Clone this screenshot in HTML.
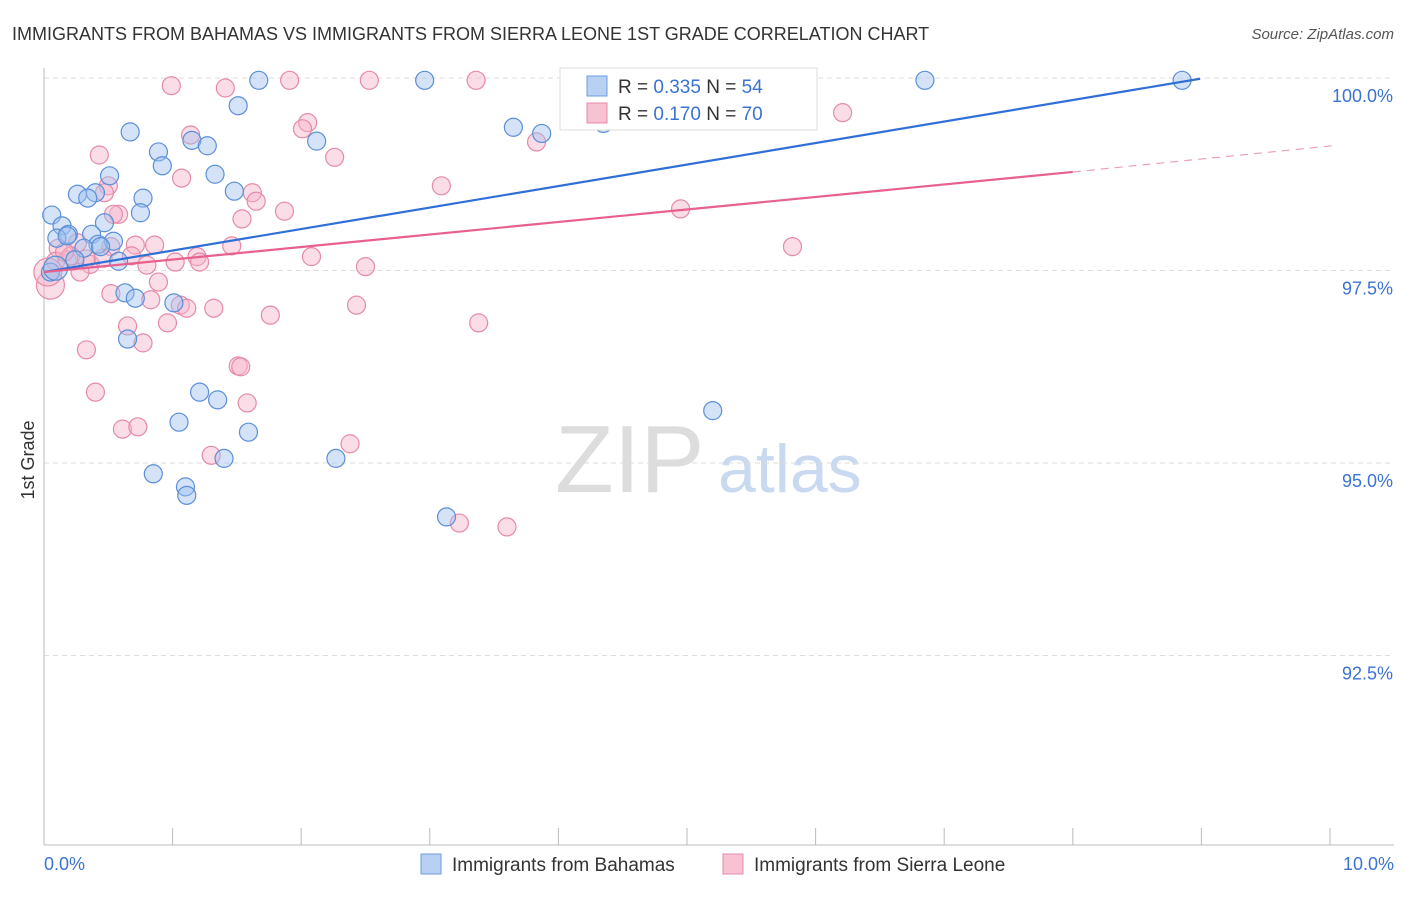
<!DOCTYPE html>
<html><head><meta charset="utf-8"><style>
body{margin:0;background:#fff;font-family:"Liberation Sans",sans-serif;}
svg text{font-family:"Liberation Sans",sans-serif;}
</style></head><body>
<svg id="chart" width="1406" height="892">
<text x="12" y="40" font-size="18" fill="#333">IMMIGRANTS FROM BAHAMAS VS IMMIGRANTS FROM SIERRA LEONE 1ST GRADE CORRELATION CHART</text>
<text x="1394" y="39" font-size="15" fill="#555" font-style="italic" text-anchor="end">Source: ZipAtlas.com</text>
<text x="34" y="460" font-size="18" fill="#333" transform="rotate(-90 34 460)" text-anchor="middle">1st Grade</text>
<text x="555" y="492" font-size="96" fill="#ddd" font-family="Liberation Serif">ZIP</text>
<text x="718" y="492" font-size="68" fill="#c9d9f0">atlas</text>
<g id="grid"></g><g id="axes"></g><g id="pts"></g><g id="lines"></g>
<g>
<rect x="560" y="68" width="257" height="62" fill="#fff" stroke="#ddd"/>
<rect x="587" y="76" width="20" height="20" fill="#b8d0f2" stroke="#6c9ce0"/>
<text x="618" y="93" font-size="19" fill="#333">R = <tspan fill="#3b73d1">0.335</tspan>   N = <tspan fill="#3b73d1">54</tspan></text>
<rect x="587" y="103" width="20" height="20" fill="#f7c3d3" stroke="#e58aa8"/>
<text x="618" y="120" font-size="19" fill="#333">R = <tspan fill="#3b73d1">0.170</tspan>   N = <tspan fill="#3b73d1">70</tspan></text>
</g>
<g>
<rect x="421" y="854" width="20" height="20" fill="#b8d0f2" stroke="#6c9ce0"/>
<text x="452" y="871" font-size="19" fill="#333">Immigrants from Bahamas</text>
<rect x="723" y="854" width="20" height="20" fill="#f7c3d3" stroke="#e58aa8"/>
<text x="754" y="871" font-size="19" fill="#333">Immigrants from Sierra Leone</text>
</g>
</svg>
<script>
const xTicks=[0,1,2,3,4,5,6,7,8,9,10];
const yTicks=[92.5,95.0,97.5,100.0];
const bahamasX=[1.67,2.96,6.85,8.85,5.91,1.51,0.67,0.89,0.92,1.15,1.27,1.33,0.51,1.48,0.77,0.26,0.40,0.34,0.75,0.06,0.14,0.47,0.19,0.37,0.54,0.42,0.10,0.18,0.31,0.58,0.05,0.63,0.71,1.01,0.65,1.21,1.35,1.05,1.59,1.40,2.27,0.85,1.10,1.11,3.13,5.20,3.65,3.87,2.12,4.35,4.93,0.09,0.24,0.44];
const bahamasY=[99.97,99.97,99.97,99.97,99.97,99.64,99.30,99.04,98.86,99.19,99.12,98.75,98.73,98.53,98.44,98.49,98.51,98.44,98.25,98.22,98.08,98.12,97.97,97.97,97.88,97.84,97.92,97.95,97.79,97.62,97.48,97.21,97.14,97.08,96.61,95.92,95.82,95.53,95.40,95.06,95.06,94.86,94.69,94.58,94.30,95.68,99.36,99.28,99.18,99.41,99.97,97.53,97.64,97.81];
const sierraX=[0.99,1.41,1.91,2.53,3.36,6.21,1.14,2.05,2.01,2.26,0.43,1.07,0.50,0.47,1.62,1.65,1.87,1.54,0.58,0.54,3.09,4.95,3.83,1.46,0.86,0.71,0.52,0.26,0.11,0.09,0.18,0.21,0.36,0.28,1.02,1.19,1.21,2.08,2.50,0.80,0.68,0.89,0.52,0.83,1.06,1.11,1.32,1.76,2.43,0.65,0.96,0.77,0.33,3.38,1.51,1.53,0.40,1.58,0.61,0.73,2.38,1.30,3.23,3.60,5.82,0.05,0.03,0.16,0.33,0.46];
const sierraY=[99.90,99.87,99.97,99.97,99.97,99.55,99.26,99.42,99.34,98.97,99.00,98.70,98.60,98.51,98.51,98.40,98.27,98.17,98.23,98.23,98.60,98.30,99.17,97.82,97.83,97.83,97.81,97.86,97.79,97.62,97.64,97.69,97.58,97.48,97.61,97.68,97.61,97.68,97.55,97.57,97.69,97.35,97.20,97.12,97.05,97.01,97.01,96.92,97.05,96.78,96.82,96.56,96.47,96.82,96.26,96.25,95.92,95.78,95.44,95.47,95.25,95.10,94.22,94.17,97.81,97.31,97.48,97.74,97.65,97.66];
const bahamasTrend=[[0,97.48],[8.99,99.99]];
const sierraTrend=[[0,97.48],[8.0,98.78]];
const sierraTrendExt=[[8.0,98.78],[10.02,99.12]];
const NS="http://www.w3.org/2000/svg";
const X=v=>44+v*128.6, Y=v=>78+(100-v)*77;
function mk(t,a,p){const e=document.createElementNS(NS,t);for(const k in a)e.setAttribute(k,a[k]);p.appendChild(e);return e;}
const grid=document.getElementById('grid'),axes=document.getElementById('axes');
yTicks.forEach(v=>{
 const l=mk('line',{x1:44,x2:1394,y1:Y(v),y2:Y(v),stroke:'#ddd','stroke-dasharray':'5,4'},grid);
 
 
 const t=mk('text',{x:1393,y:Y(v)+24,'font-size':18,fill:'#3b73d1','text-anchor':'end'},axes);
 t.textContent=v.toFixed(1)+'%';
 
 
});
mk('line',{x1:44,x2:44,y1:68,y2:845,stroke:'#bbb'},axes);
mk('line',{x1:44,x2:1394,y1:845,y2:845,stroke:'#bbb'},axes);
xTicks.forEach(v=>{
 const l=mk('line',{x1:X(v),x2:X(v),y1:828,y2:845,stroke:'#bbb'},axes);
 
 
});
[[0,'0.0%','start',44],[10,'10.0%','end',1394]].forEach(d=>{
 const t=mk('text',{x:d[3],y:870,'font-size':18,fill:'#3b73d1','text-anchor':d[2]},axes);
 t.textContent=d[1];
 
 
});
const pts=document.getElementById('pts');
sierraX.forEach((x,i)=>{
 const c=mk('circle',{cx:X(x),cy:Y(sierraY[i]),r:i>=65&&i<67?14:9,fill:'rgba(247,180,202,0.45)',stroke:'#e58aa8','stroke-width':1.2},pts);
 
 
});
bahamasX.forEach((x,i)=>{
 const c=mk('circle',{cx:X(x),cy:Y(bahamasY[i]),r:i==51?12:9,fill:'rgba(160,192,238,0.45)',stroke:'#5b8fd9','stroke-width':1.2},pts);
 
 
});
const lines=document.getElementById('lines');
const bl=mk('line',{x1:X(bahamasTrend[0][0]),y1:Y(bahamasTrend[0][1]),x2:X(bahamasTrend[1][0]),y2:Y(bahamasTrend[1][1]),stroke:'#2f6fd6','stroke-width':2.2},lines);


const sl=mk('line',{x1:X(sierraTrend[0][0]),y1:Y(sierraTrend[0][1]),x2:X(sierraTrend[1][0]),y2:Y(sierraTrend[1][1]),stroke:'#e8608e','stroke-width':2.2},lines);


const se=mk('line',{x1:X(sierraTrendExt[0][0]),y1:Y(sierraTrendExt[0][1]),x2:X(sierraTrendExt[1][0]),y2:Y(sierraTrendExt[1][1]),stroke:'#eca0b8','stroke-width':1.2,'stroke-dasharray':'8,6'},lines);


</script>
</body></html>
